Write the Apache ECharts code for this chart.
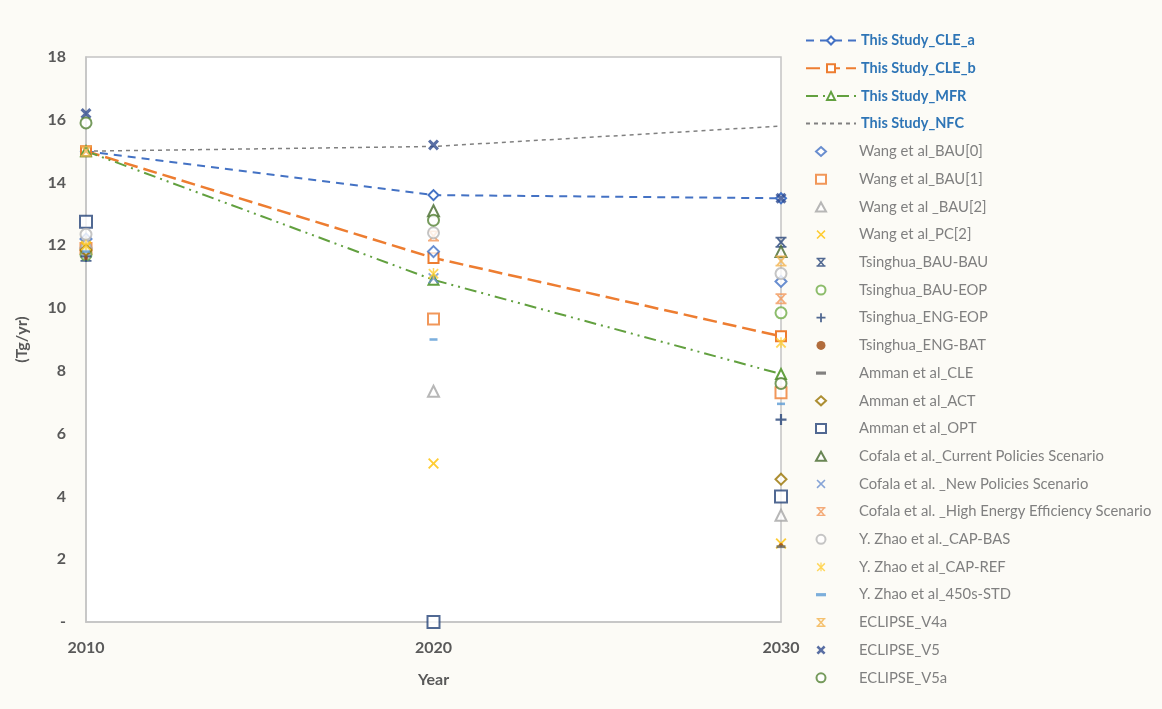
<!DOCTYPE html>
<html>
<head>
<meta charset="utf-8">
<script src="https://cdn.jsdelivr.net/npm/echarts@6/dist/echarts.min.js"></script>
<style>
html,body{margin:0;padding:0;background:#fcfbf6;}
#chart{width:1162px;height:709px;}
</style>
</head>
<body>
<div id="chart"></div>
<script>
// ---------- data ----------
const years = [2010, 2020, 2030];
const yTicks = [0, 2, 4, 6, 8, 10, 12, 14, 16, 18];

// This Study scenarios (lines)
const studyCLEa = [15.0, 13.6, 13.5];
const studyCLEb = [15.0, 11.6, 9.1];
const studyMFR  = [15.0, 10.9, 7.9];
const studyNFC  = [15.0, 15.15, 15.8];

// Literature scenarios (markers), values for 2010, 2020, 2030
const wangBAU0   = [12.2, 11.8, 10.85];
const wangBAU1   = [11.9, 9.65, 7.3];
const wangBAU2   = [12.1, 7.35, 3.4];
const wangPC2    = [11.95, 5.05, 2.5];
const tsBAUBAU   = [11.65, null, 12.1];
const tsBAUEOP   = [11.7, null, 9.85];
const tsENGEOP   = [11.65, null, 6.45];
const tsENGBAT   = [11.6, null, 2.45];
const ammanCLE   = [11.75, null, 2.4];
const ammanACT   = [11.85, null, 4.55];
const ammanOPT   = [12.75, 0.0, 4.0];
const cofalaCur  = [null, 13.1, 11.8];
const cofalaNew  = [null, 10.95, null];
const cofalaHigh = [null, 12.3, 10.3];
const zhaoBAS    = [12.35, 12.4, 11.1];
const zhaoREF    = [12.0, 11.1, 8.9];
const zhao450    = [11.8, 9.0, 6.95];
const eclV4a     = [15.0, null, 11.5];
const eclV5      = [16.2, 15.2, 13.5];
const eclV5a     = [15.9, 12.8, 7.6];

// ---------- marker shapes ----------
const X_PATH = 'path://M0,1.2L1.2,0L5,3.8L8.8,0L10,1.2L6.2,5L10,8.8L8.8,10L5,6.2L1.2,10L0,8.8L3.8,5Z';
const BOW_PATH = 'path://M0,0H10V1.6H0Z M0,8.4H10V10H0Z M0.6,1.2L1.8,0.2L5,3.8L8.2,0.2L9.4,1.2L6.2,5L9.4,8.8L8.2,9.8L5,6.2L1.8,9.8L0.6,8.8L3.8,5Z';
const BOLDX_PATH = 'path://M0,2L2,0L5,3L8,0L10,2L7,5L10,8L8,10L5,7L2,10L0,8L3,5Z';
const PLUS_PATH = 'path://M4,0H6V4H10V6H6V10H4V6H0V4H4Z';
const STAR_PATH = 'path://M4.3,0H5.7V10H4.3Z M0,1.6L1.2,0.4L5,4.2L8.8,0.4L10,1.6L6.2,5.4L10,9.2L8.8,10.4L5,6.6L1.2,10.4L0,9.2L3.8,5.4Z';
const DASH_PATH = 'path://M0,0H10V3.2H0Z';

const FONT = 'Lato, "Open Sans", "Liberation Sans", sans-serif';

function pairs(vals) {
  const out = [];
  years.forEach((y, i) => { if (vals[i] !== null && vals[i] !== undefined) out.push([y, vals[i]]); });
  return out;
}

function lineSeries(name, vals, color, dash, width, symbol) {
  return {
    name, type: 'line', data: pairs(vals),
    symbol: symbol || 'circle', symbolSize: symbol ? 10 : 0,
    showSymbol: !!symbol,
    lineStyle: { color, width, type: dash },
    itemStyle: symbol ? { color: '#ffffff', borderColor: color, borderWidth: 2 } : { color, opacity: 0 },
    emphasis: { disabled: true }, z: 2, clip: false
  };
}

function markerSeries(name, vals, color, symbol, size, hollow) {
  return {
    name, type: 'scatter', data: pairs(vals),
    symbol, symbolSize: size, symbolKeepAspect: true,
    itemStyle: hollow ? { color: '#ffffff', borderColor: color, borderWidth: 2 } : { color, borderWidth: 0 },
    emphasis: { disabled: true }, z: 3, clip: false
  };
}

const lineDefs = [
  lineSeries('This Study_CLE_a', studyCLEa, '#4472c4', [8, 6], 2, 'diamond'),
  lineSeries('This Study_CLE_b', studyCLEb, '#ed7d31', [14, 6], 2.5, 'rect'),
  lineSeries('This Study_MFR', studyMFR, '#62a03f', [12, 5, 2, 5, 2, 5], 2, 'triangle'),
  lineSeries('This Study_NFC', studyNFC, '#808080', [4, 4], 1.5, null)
];

const markerDefs = [
  markerSeries('Wang et al_BAU[0]', wangBAU0, '#4472c4', 'diamond', 11, true),
  markerSeries('Wang et al_BAU[1]', wangBAU1, '#ed7d31', 'rect', 11, true),
  markerSeries('Wang et al _BAU[2]', wangBAU2, '#a5a5a5', 'triangle', 11, true),
  markerSeries('Wang et al_PC[2]', wangPC2, '#ffc000', X_PATH, 11, false),
  markerSeries('Tsinghua_BAU-BAU', tsBAUBAU, '#264478', BOW_PATH, 11, false),
  markerSeries('Tsinghua_BAU-EOP', tsBAUEOP, '#70ad47', 'circle', 11, true),
  markerSeries('Tsinghua_ENG-EOP', tsENGEOP, '#264478', PLUS_PATH, 11, false),
  markerSeries('Tsinghua_ENG-BAT', tsENGBAT, '#9e480e', 'circle', 4, false),
  markerSeries('Amman et al_CLE', ammanCLE, '#636363', DASH_PATH, 9, false),
  markerSeries('Amman et al_ACT', ammanACT, '#997300', 'diamond', 11, true),
  markerSeries('Amman et al_OPT', ammanOPT, '#264478', 'rect', 12, true),
  markerSeries('Cofala et al._Current Policies Scenario', cofalaCur, '#43682b', 'triangle', 11, true),
  markerSeries('Cofala et al. _New Policies Scenario', cofalaNew, '#698ed0', X_PATH, 11, false),
  markerSeries('Cofala et al. _High Energy Efficiency Scenario', cofalaHigh, '#f1975a', BOW_PATH, 11, false),
  markerSeries('Y. Zhao et al._CAP-BAS', zhaoBAS, '#b7b7b7', 'circle', 11, true),
  markerSeries('Y. Zhao et al_CAP-REF', zhaoREF, '#ffcd33', STAR_PATH, 11, false),
  markerSeries('Y. Zhao et al_450s-STD', zhao450, '#5b9bd5', DASH_PATH, 8, false),
  markerSeries('ECLIPSE_V4a', eclV4a, '#f2b34e', BOW_PATH, 11, false),
  markerSeries('ECLIPSE_V5', eclV5, '#2f4b8f', BOLDX_PATH, 11, false),
  markerSeries('ECLIPSE_V5a', eclV5a, '#548235', 'circle', 11, true)
];

const chart = echarts.init(document.getElementById('chart'), null, { renderer: 'canvas' });

const axisText = { fontFamily: FONT, fontSize: 16, fontWeight: 'bold', color: '#595959' };

chart.setOption({
  animation: false,
  backgroundColor: '#fcfbf6',
  textStyle: { fontFamily: FONT },
  grid: { left: 86, right: 381, top: 57, bottom: 87, show: true, backgroundColor: '#ffffff', borderColor: '#c4c4c4', borderWidth: 1.5 },
  xAxis: {
    type: 'value', min: years[0], max: years[years.length - 1], interval: 10,
    axisLine: { show: true, lineStyle: { color: '#c4c4c4', width: 1.5 } },
    axisTick: { show: false }, splitLine: { show: false },
    axisLabel: Object.assign({ margin: 18, formatter: v => String(v) }, axisText),
    name: 'Year', nameLocation: 'middle', nameGap: 50, nameTextStyle: axisText
  },
  yAxis: {
    type: 'value', min: yTicks[0], max: yTicks[yTicks.length - 1], interval: 2,
    axisLine: { show: true, lineStyle: { color: '#c4c4c4', width: 1.5 } },
    axisTick: { show: false }, splitLine: { show: false },
    axisLabel: Object.assign({ margin: 20, formatter: v => (v === 0 ? '-' : String(v)) }, axisText),
    name: '(Tg/yr)', nameLocation: 'middle', nameGap: 56, nameTextStyle: axisText
  },
  legend: [
    {
      data: lineDefs.map((s, i) => i === 3 ? { name: s.name, itemStyle: { opacity: 0 } } : { name: s.name }),
      orient: 'vertical', left: 805, top: 33, padding: 0,
      itemWidth: 50, itemHeight: 10, itemGap: 12.7,
      selectedMode: false,
      textStyle: { fontFamily: FONT, fontSize: 14.5, fontWeight: 'bold', color: '#2e75b6', lineHeight: 14 }
    },
    {
      data: markerDefs.map(s => s.name),
      orient: 'vertical', left: 815, top: 144, padding: 0,
      itemWidth: 10, itemHeight: 9, itemGap: 12.7,
      selectedMode: false,
      textStyle: { fontFamily: FONT, fontSize: 14.8, color: '#808080', lineHeight: 14, padding: [0, 0, 0, 28] }
    }
  ],
  series: lineDefs.concat(markerDefs)
});
</script>
</body>
</html>
